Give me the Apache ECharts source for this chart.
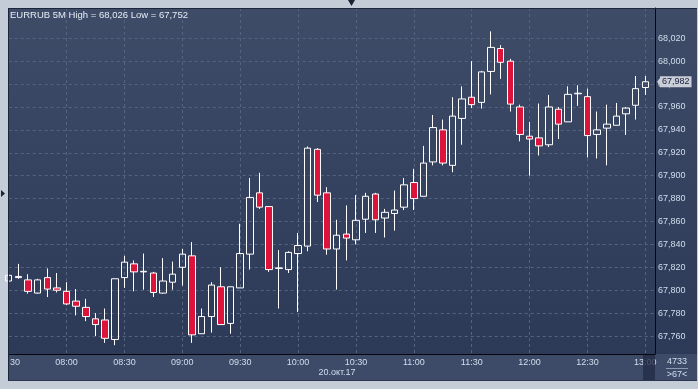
<!DOCTYPE html>
<html><head><meta charset="utf-8">
<script src="https://cdn.jsdelivr.net/npm/echarts@6/dist/echarts.min.js"></script>
<style>html,body{margin:0;padding:0;background:#c4ccd8}#c{width:698px;height:389px}</style>
</head><body><div id="c"></div>
<script>
const times = ['07:30','07:35','07:40','07:45','07:50','07:55','08:00','08:05','08:10','08:15','08:20','08:25',
'08:30','08:35','08:40','08:45','08:50','08:55','09:00','09:05','09:10','09:15','09:20','09:25',
'09:30','09:35','09:40','09:45','09:50','09:55','10:00','10:05','10:10','10:15','10:20','10:25',
'10:30','10:35','10:40','10:45','10:50','10:55','11:00','11:05','11:10','11:15','11:20','11:25',
'11:30','11:35','11:40','11:45','11:50','11:55','12:00','12:05','12:10','12:15','12:20','12:25',
'12:30','12:35','12:40','12:45','12:50','12:55','13:00','13:05'];
const opens  = [67808,67811,67809,67797.5,67811,67802,67799,67790.5,67785,67775,67774,67757,
67811,67823,67816,67815,67797.5,67807,67820,67830,67762,67777,67803,67771,
67802,67831.5,67885,67873,67819,67818,67832,67838.5,67923,67885,67836,67849,
67844,67862,67884,67863,67867,67872.5,67894,67882,67912,67940,67909,67950,
67968.5,67964,67991,68011,68000,67960,67934.5,67933,67927,67958,67947,67971.5,
67969,67936,67941.5,67944,67954,67961.5,67977];
const closes = [67813,67812,67799,67809,67801,67800,67788,67786,67777,67770,67758,67810,
67824.5,67816,67816.5,67798,67808,67814,67831.5,67761,67777,67804.5,67770,67803,
67832,67881,67872.5,67818,67819.5,67833,67839,67924,67883,67836,67848,67845.5,
67861,67882,67861.5,67868,67870,67892,67880,67911,67942,67911,67952,67967,
67962,67990.6,68012,67999,67962.5,67936,67932,67926,67960,67945,67971,67972,
67935,67940,67945,67952,67959,67976,67982];
const lows   = [67807,67810,67797,67797,67794,67798,67787,67778,67773,67760,67754,67752,
67802,67799,67800.5,67794,67797,67800.5,67804,67754,67762,67763,67770,67762,
67802,67818,67871,67816,67784,67815,67781,67834,67877,67831,67800.5,67826,
67840,67850,67850,67846,67852,67870,67870,67882,67909,67909,67903,67927,
67959,67958.6,67971,67984.5,67956,67930,67900,67917.6,67925,67932,67947,67961,
67916,67915,67909,67944,67935.6,67949,67970.5];
const highs  = [67814,67823,67814,67810,67819,67815,67807,67801,67792.5,67780,67784,67810,
67830,67826,67832,67816,67828,67825,67836,67842,67784,67807,67820,67803,
67858,67898,67902.5,67873.5,67835,67834,67850,67925.5,67924,67890,67861.5,67874,
67883,67885,67885,67871,67887,67898,67906,67926,67953,67949,67968.5,67978,
68000,67991.5,68026,68014,68002,67962,67947,67963,67970.5,67960,67978,67979,
67976,67956,67962,67963.5,67960,67987,67987];
const yTicks = [67760,67780,67800,67820,67840,67860,67880,67900,67920,67940,67960,67980,68000,68020];
const titleText = 'EURRUB 5M High = 68,026 Low = 67,752';
const dateText = '20.окт.17';
const lastPrice = 67982;
const infoTop = '4733';
const infoBottom = '>67<';

const fmt = v => String(v).replace(/\B(?=(\d{3})+(?!\d))/g, ',');
const candles = times.map((t, i) => i < opens.length ? [opens[i], closes[i], lows[i], highs[i]] : '-');

const FONT = 'Liberation Sans, Arial, sans-serif';
const labelColor = '#d3ddee';
const gridColor = '#56637f';
const frame = '#c4ccd8';
const axisBar = '#3d4b68';
const txt = (text, x, y, z) => ({type: 'text', z: z || 100, x, y,
  style: {text, fill: labelColor, font: '9px ' + FONT, align: 'center', verticalAlign: 'middle', textAlign: 'center', textVerticalAlign: 'middle'}});

const chart = echarts.init(document.getElementById('c'), null, {renderer: 'canvas'});
chart.setOption({
  animation: false,
  backgroundColor: frame,
  textStyle: {fontFamily: FONT},
  title: {text: titleText, left: 10, top: 10, padding: 0,
    textStyle: {fontSize: 9.5, fontWeight: 'normal', color: '#e6ecf6', fontFamily: FONT}},
  grid: {left: 8.7, right: 43, top: 8, bottom: 35, containLabel: false},
  xAxis: {
    type: 'category', data: times, boundaryGap: false,
    axisLine: {show: true, lineStyle: {color: '#05080f', width: 1}},
    axisTick: {show: false},
    axisLabel: {interval: 5, color: labelColor, fontSize: 9, margin: 4, fontFamily: FONT, showMinLabel: false},
    splitLine: {show: true, interval: 5, lineStyle: {color: gridColor, type: [3, 3], width: 1}}
  },
  yAxis: {
    type: 'value', position: 'right', min: 67744.3, max: 68046.4,
    axisLine: {show: true, lineStyle: {color: '#05080f', width: 1}},
    axisTick: {show: false, customValues: yTicks},
    axisLabel: {customValues: yTicks, color: labelColor, fontSize: 9, margin: 3, fontFamily: FONT,
      formatter: v => fmt(v)},
    splitLine: {show: true, lineStyle: {color: gridColor, type: [3, 3], width: 1}}
  },
  series: [{
    type: 'candlestick',
    data: candles,
    barWidth: 7,
    clip: true,
    itemStyle: {color: 'rgba(0,0,0,0)', color0: '#dc143c', borderColor: '#ffffff', borderColor0: '#ffffff', borderWidth: 1},
    emphasis: {disabled: true},
    markLine: {
      silent: true, symbol: ['none', 'none'], animation: false,
      data: [{yAxis: lastPrice}],
      lineStyle: {color: 'rgba(0,0,0,0)', width: 0},
      label: {show: true, position: 'end', formatter: fmt(lastPrice), backgroundColor: '#c9ced8', color: '#18203a',
        fontSize: 9, fontFamily: FONT, padding: [1, 2, 1, 2], distance: 5}
    },
    markPoint: {
      silent: true, animation: false,
      data: [{coord: ['13:05', lastPrice]}],
      symbol: 'triangle', symbolRotate: 90, symbolSize: [10, 4], symbolOffset: [4, 0],
      itemStyle: {color: '#c9ced8'}, label: {show: false}
    }
  }],
  graphic: [
    {type: 'rect', z: -10, shape: {x: 8, y: 8, width: 689, height: 346},
      style: {fill: {type: 'linear', x: 0, y: 0, x2: 0, y2: 1,
        colorStops: [{offset: 0, color: '#3f4c68'}, {offset: 1, color: '#2c3957'}]}}},
    {type: 'rect', z: -10, shape: {x: 8, y: 354, width: 689, height: 27}, style: {fill: axisBar}},
    txt(times[0], 8.7, 362.5, 99),
    {type: 'rect', z: 100, shape: {x: 0, y: 340, width: 8.5, height: 49}, style: {fill: frame}},
    {type: 'rect', z: 100, shape: {x: 8.5, y: 355, width: 1.5, height: 25}, style: {fill: axisBar}},
    {type: 'line', z: 101, shape: {x1: 8.5, y1: 8, x2: 8.5, y2: 381}, style: {stroke: '#1c2539', lineWidth: 1}},
    {type: 'line', z: 101, shape: {x1: 8, y1: 8.5, x2: 697, y2: 8.5}, style: {stroke: '#1c2539', lineWidth: 1}},
    {type: 'line', z: 101, shape: {x1: 8, y1: 380.5, x2: 697, y2: 380.5}, style: {stroke: '#2a3550', lineWidth: 1}},
    {type: 'rect', z: 100, shape: {x: 643, y: 355, width: 12, height: 25}, style: {fill: 'rgba(34,44,68,0.78)'}},
    txt(dateText, 337, 373),
    txt(infoTop, 677, 361.5),
    {type: 'line', z: 100, shape: {x1: 666, y1: 368.5, x2: 688, y2: 368.5}, style: {stroke: '#8d99b2', lineWidth: 1}},
    txt(infoBottom, 677, 374.5),
    {type: 'polygon', z: 100, shape: {points: [[348, 0], [355, 0], [351.5, 6]]}, style: {fill: '#1a2335'}},
    {type: 'polygon', z: 100, shape: {points: [[1, 190], [1, 197], [5, 193.5]]}, style: {fill: '#1a2335'}}
  ]
});
</script></body></html>
